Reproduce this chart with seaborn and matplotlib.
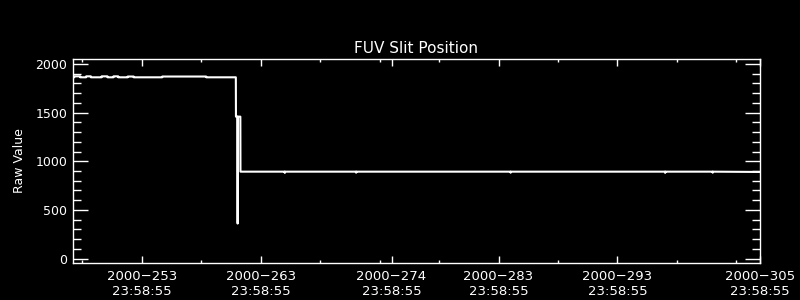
import matplotlib
matplotlib.use("Agg")
import matplotlib.pyplot as plt
import seaborn as sns
import pandas as pd
from matplotlib.ticker import FixedLocator, MultipleLocator

sns.set_theme(style="dark")
plt.rcParams['font.family'] = ['DejaVu Sans']

# time of day 23:58:55 as fraction of a day
TOD = (23 * 3600 + 58 * 60 + 55) / 86400.0

# Data (day of year 2000, raw value)
days = [248.20, 248.30, 248.31, 248.80, 248.81, 249.30, 249.31, 249.70,
        249.71, 250.60, 250.61, 251.10, 251.11, 251.60, 251.61, 252.00,
        252.01, 252.80, 252.81, 253.30, 253.31, 255.70, 255.71, 259.40,
        259.41, 261.90, 261.91, 262.04, 262.05, 262.06, 262.28, 262.29,
        266.00, 266.02, 266.04, 272.00, 272.02, 272.04, 285.00, 285.02,
        285.04, 298.00, 298.02, 298.04, 302.00, 302.02, 302.04, 306.0]
values = [1862, 1862, 1872, 1872, 1862, 1862, 1872, 1872,
          1862, 1862, 1872, 1872, 1862, 1862, 1872, 1872,
          1862, 1862, 1870, 1870, 1862, 1862, 1870, 1870,
          1862, 1862, 1458, 1458, 360, 1458, 1458, 893,
          893, 880, 893, 893, 882, 893, 893, 882,
          893, 893, 880, 893, 893, 882, 893, 890]

major_days = [253, 263, 274, 283, 293, 305]
minor_days = [248, 258, 268, 273, 278, 288, 298, 303]
major_labels = ["2000\u2212%d\n23:58:55" % d for d in major_days]

title = "FUV Slit Position"
ylabel = "Raw Value"

df = pd.DataFrame({"day": days, "value": values})

fig = plt.figure(figsize=(8, 3), dpi=100, facecolor="black")
ax = fig.add_axes([73 / 800, 1 - 263 / 300, (760 - 73) / 800, (263 - 59) / 300])
ax.set_facecolor("black")

sns.lineplot(data=df, x="day", y="value", ax=ax, color="white",
             linewidth=1.5, estimator=None, sort=False)

ax.set_xlim(248.20, 305 + TOD)
ax.set_ylim(-45, 2050)

ax.xaxis.set_major_locator(FixedLocator([d + TOD for d in major_days]))
ax.xaxis.set_minor_locator(FixedLocator([d + TOD for d in minor_days]))
ax.set_xticklabels(major_labels)
ax.yaxis.set_major_locator(MultipleLocator(500))
ax.yaxis.set_minor_locator(MultipleLocator(100))

for s in ax.spines.values():
    s.set_color("white")
    s.set_linewidth(1.0)
    s.set_visible(True)

ax.tick_params(axis="x", which="major", direction="in", length=5, width=1,
               color="white", labelcolor="white", labelsize=9.5, top=True,
               bottom=True, pad=5)
ax.tick_params(axis="x", which="minor", direction="in", length=2.5, width=1,
               color="white", top=True, bottom=True)
ax.tick_params(axis="y", which="major", direction="in", length=10.5, width=1,
               color="white", labelcolor="white", labelsize=9, left=True,
               right=True, pad=4)
ax.tick_params(axis="y", which="minor", direction="in", length=5.5, width=1,
               color="white", left=True, right=True)
ax.grid(False)

ax.set_xlabel("")
ax.set_ylabel(ylabel, color="white", fontsize=9, labelpad=7)
ax.set_title(title, color="white", fontsize=11, pad=4)

fig.savefig("out.png", dpi=100, facecolor="black")
